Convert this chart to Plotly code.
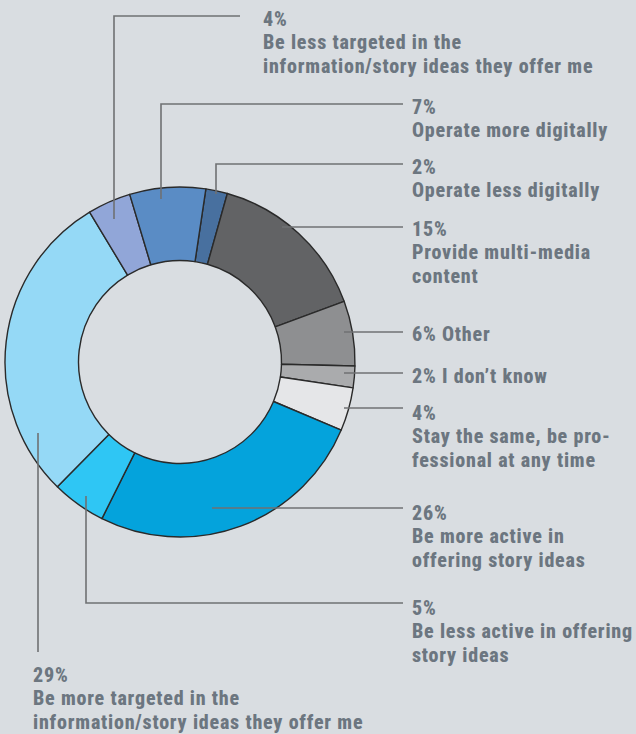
import plotly.graph_objects as go

# Survey answers, clockwise from just right of 12 o'clock
labels = [
    "Operate less digitally",
    "Provide multi-media content",
    "Other",
    "I don't know",
    "Stay the same, be professional at any time",
    "Be more active in offering story ideas",
    "Be less active in offering story ideas",
    "Be more targeted in the information/story ideas they offer me",
    "Be less targeted in the information/story ideas they offer me",
    "Operate more digitally",
]
values = [2, 15, 6, 2, 4, 26, 5, 29, 4, 7]
colors = ["#48709f", "#626365", "#8e8f91", "#aaabad", "#e5e6e8",
          "#04a3dc", "#2fc6f4", "#95d9f6", "#91a6d8", "#5a8cc5"]

# Label text blocks (same order as the slices), one entry per printed line
label_lines = [
    ["2%", "Operate less digitally"],
    ["15%", "Provide multi-media", "content"],
    ["6% Other"],
    ["2% I don\u2019t know"],
    ["4%", "Stay the same, be pro-", "fessional at any time"],
    ["26%", "Be more active in", "offering story ideas"],
    ["5%", "Be less active in offering", "story ideas"],
    ["29%", "Be more targeted in the", "information/story ideas they offer me"],
    ["4%", "Be less targeted in the", "information/story ideas they offer me"],
    ["7%", "Operate more digitally"],
]

W, H = 636, 734
BG = "#d9dde1"
TXT = "#6c7680"
LINE = "#6f7173"
FONT = "Roboto Condensed, Liberation Sans Narrow, Arial Narrow, sans-serif"
FSIZE = 20
TRACK = "0.8px"
LH = 23.3

cx, cy, R = 180, 362, 175

fig = go.Figure()
fig.add_trace(go.Pie(
    labels=labels, values=values, sort=False, direction="clockwise",
    rotation=8.5, hole=0.58,
    marker=dict(colors=colors, line=dict(color="#2a2a2a", width=1.4)),
    textinfo="none", hoverinfo="label+percent", showlegend=False,
    domain=dict(x=[(cx - R) / W, (cx + R) / W],
                y=[1 - (cy + R) / H, 1 - (cy - R) / H]),
))

# Leader lines (pixel coordinates) and first-line position for each label
leaders = [
    [(216, 194), (216, 164), (403, 164)],
    [(282, 227), (403, 227)],
    [(344, 332), (403, 332)],
    [(344, 373), (403, 373)],
    [(344, 408), (403, 408)],
    [(212, 508), (403, 508)],
    [(86, 496), (86, 603), (403, 603)],
    [(38, 433), (38, 652)],
    [(114, 219), (114, 16), (240, 16)],
    [(161, 199), (161, 104), (403, 104)],
]
anchors = [(411, 167), (411, 229), (411, 334), (411, 376), (411, 413),
           (411, 513), (411, 608), (32, 675), (262, 19), (411, 107)]

for pts in leaders:
    path = "M " + " L ".join(f"{x},{y}" for x, y in pts)
    fig.add_shape(type="path", path=path, xref="x", yref="y",
                  line=dict(color=LINE, width=1.6))

for lines, (ax, ay) in zip(label_lines, anchors):
    for k, line in enumerate(lines):
        fig.add_annotation(
            x=ax, y=ay + k * LH, xref="x", yref="y",
            text=f'<span style="letter-spacing:{TRACK}">{line}</span>',
            showarrow=False, xanchor="left", yanchor="middle",
            align="left", borderpad=0,
            font=dict(family=FONT, size=FSIZE, color=TXT, weight=800))

fig.update_layout(
    width=W, height=H, margin=dict(l=0, r=0, t=0, b=0),
    paper_bgcolor=BG, plot_bgcolor=BG,
    xaxis=dict(range=[0, W], visible=False, fixedrange=True),
    yaxis=dict(range=[H, 0], visible=False, fixedrange=True),
    font=dict(family=FONT, color=TXT, size=FSIZE),
)

fig.write_html("out.html")
